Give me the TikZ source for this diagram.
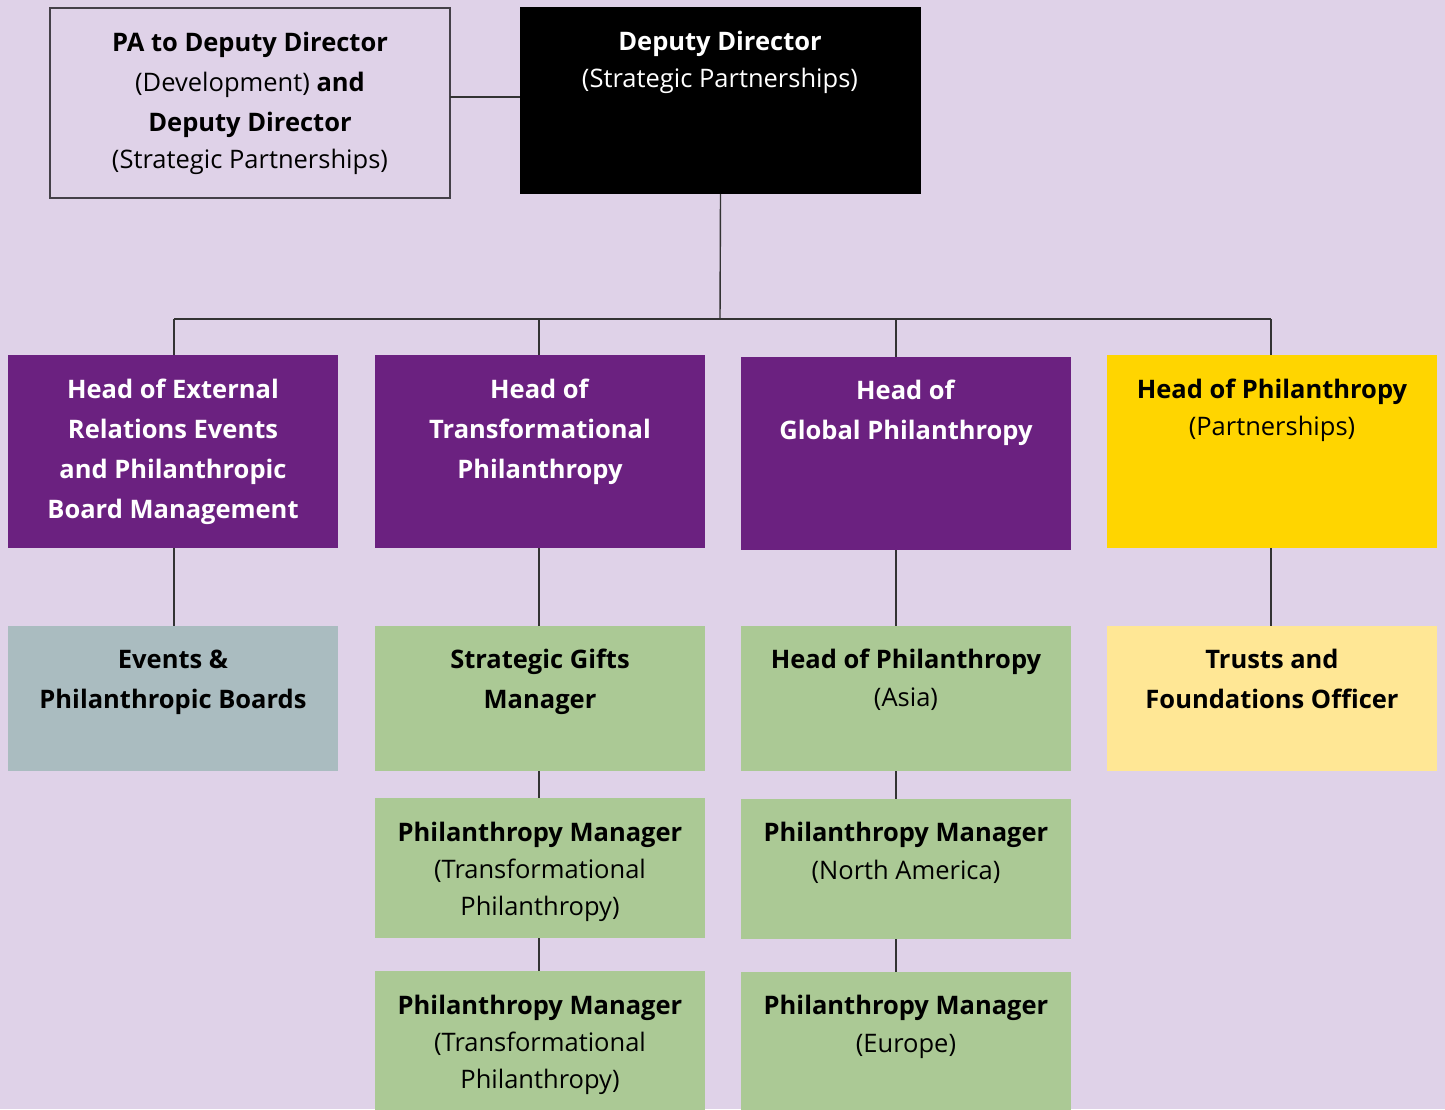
\documentclass[tikz,border=0pt]{standalone}
\usepackage{fontspec}
\setmainfont{Open Sans}
\definecolor{bg}{HTML}{DFD2E8}
\definecolor{pabox}{HTML}{DFD2E8}
\definecolor{purp}{HTML}{6B2180}
\definecolor{yel}{HTML}{FFD500}
\definecolor{lyel}{HTML}{FFE795}
\definecolor{grn}{HTML}{ABC995}
\definecolor{gblue}{HTML}{AABCC0}
\definecolor{linec}{HTML}{333333}
\definecolor{pabord}{HTML}{444048}
\tikzset{
  box/.style={rectangle, inner sep=0pt, outer sep=0pt, anchor=north west},
  lbl/.style={anchor=north, inner sep=0pt, align=center, font=\fontsize{25.5}{40}\selectfont},
  conn/.style={draw=linec, line width=1.4pt},
}
\begin{document}
\begin{tikzpicture}[x=1pt, y=-1pt]
\useasboundingbox[fill=bg] (0,0) rectangle (1445,1109);
% boxes
\node[box, fill=pabox, draw=pabord, line width=1.6pt, minimum width=400, minimum height=190] (pa) at (50,8) {};
\node[box, fill=black, minimum width=401, minimum height=187] (dd) at (520,7) {};
\node[box, fill=purp, minimum width=330, minimum height=193] (hA) at (8,355) {};
\node[box, fill=purp, minimum width=330, minimum height=193] (hB) at (375,355) {};
\node[box, fill=purp, minimum width=330, minimum height=193] (hC) at (741,357) {};
\node[box, fill=yel, minimum width=330, minimum height=193] (hD) at (1107,355) {};
\node[box, fill=gblue, minimum width=330, minimum height=145] (a3) at (8,626) {};
\node[box, fill=grn, minimum width=330, minimum height=145] (b3) at (375,626) {};
\node[box, fill=grn, minimum width=330, minimum height=145] (c3) at (741,626) {};
\node[box, fill=lyel, minimum width=330, minimum height=145] (d3) at (1107,626) {};
\node[box, fill=grn, minimum width=330, minimum height=140] (b4) at (375,798) {};
\node[box, fill=grn, minimum width=330, minimum height=140] (c4) at (741,799) {};
\node[box, fill=grn, minimum width=330, minimum height=140] (b5) at (375,971) {};
\node[box, fill=grn, minimum width=330, minimum height=140] (c5) at (741,972) {};
% texts
\node[lbl] (tpa) at (250,23) {\strut\textbf{PA to Deputy Director}\\ (Development) \textbf{and}\\ \textbf{Deputy Director}\\[-3pt] (Strategic Partnerships)};
\node[lbl, text=white] (tdd) at (720,22) {\strut\textbf{Deputy Director}\\[-3pt] (Strategic Partnerships)};
\node[lbl, text=white] (thA) at (173,370) {\strut\textbf{Head of External}\\ \textbf{Relations Events}\\ \textbf{and Philanthropic}\\ \textbf{Board Management}};
\node[lbl, text=white] (thB) at (540,370) {\strut\textbf{Head of}\\ \textbf{Transformational}\\ \textbf{Philanthropy}};
\node[lbl, text=white] (thC) at (906,371) {\strut\textbf{Head of}\\ \textbf{Global Philanthropy}};
\node[lbl] (thD) at (1272,370) {\strut\textbf{Head of Philanthropy}\\[-3pt] (Partnerships)};
\node[lbl] (ta3) at (173,640) {\strut\textbf{Events \&}\\ \textbf{Philanthropic Boards}};
\node[lbl] (tb3) at (540,640) {\strut\textbf{Strategic Gifts}\\ \textbf{Manager}};
\node[lbl] (tc3) at (906,640) {\strut\textbf{Head of Philanthropy}\\[-2pt] (Asia)};
\node[lbl] (td3) at (1272,640) {\strut\textbf{Trusts and}\\ \textbf{Foundations Officer}};
\node[lbl] (tb4) at (540,813) {\strut\textbf{Philanthropy Manager}\\[-3pt] (Transformational\\[-3pt] Philanthropy)};
\node[lbl] (tc4) at (906,813) {\strut\textbf{Philanthropy Manager}\\[-2pt] (North America)};
\node[lbl] (tb5) at (540,986) {\strut\textbf{Philanthropy Manager}\\[-3pt] (Transformational\\[-3pt] Philanthropy)};
\node[lbl] (tc5) at (906,986) {\strut\textbf{Philanthropy Manager}\\[-2pt] (Europe)};
% connectors
\coordinate (paj) at ([yshift=6pt]pa.east);
\draw[conn] (paj) -- (paj -| dd.west);
\coordinate (bus) at (720,319);
\coordinate (xA) at (174,0);
\coordinate (xB) at (539,0);
\coordinate (xC) at (896,0);
\coordinate (xD) at (1271,0);
\draw[conn] (dd.south) -- (bus);
\draw[conn] (xA |- bus) -- (xD |- bus);
\draw[conn] (xA |- bus) -- (xA |- hA.north);
\draw[conn] (xB |- bus) -- (xB |- hB.north);
\draw[conn] (xC |- bus) -- (xC |- hC.north);
\draw[conn] (xD |- bus) -- (xD |- hD.north);
\draw[conn] (xA |- hA.south) -- (xA |- a3.north);
\draw[conn] (xB |- hB.south) -- (xB |- b3.north);
\draw[conn] (xC |- hC.south) -- (xC |- c3.north);
\draw[conn] (xD |- hD.south) -- (xD |- d3.north);
\draw[conn] (xB |- b3.south) -- (xB |- b4.north);
\draw[conn] (xC |- c3.south) -- (xC |- c4.north);
\draw[conn] (xB |- b4.south) -- (xB |- b5.north);
\draw[conn] (xC |- c4.south) -- (xC |- c5.north);
\end{tikzpicture}
\end{document}
